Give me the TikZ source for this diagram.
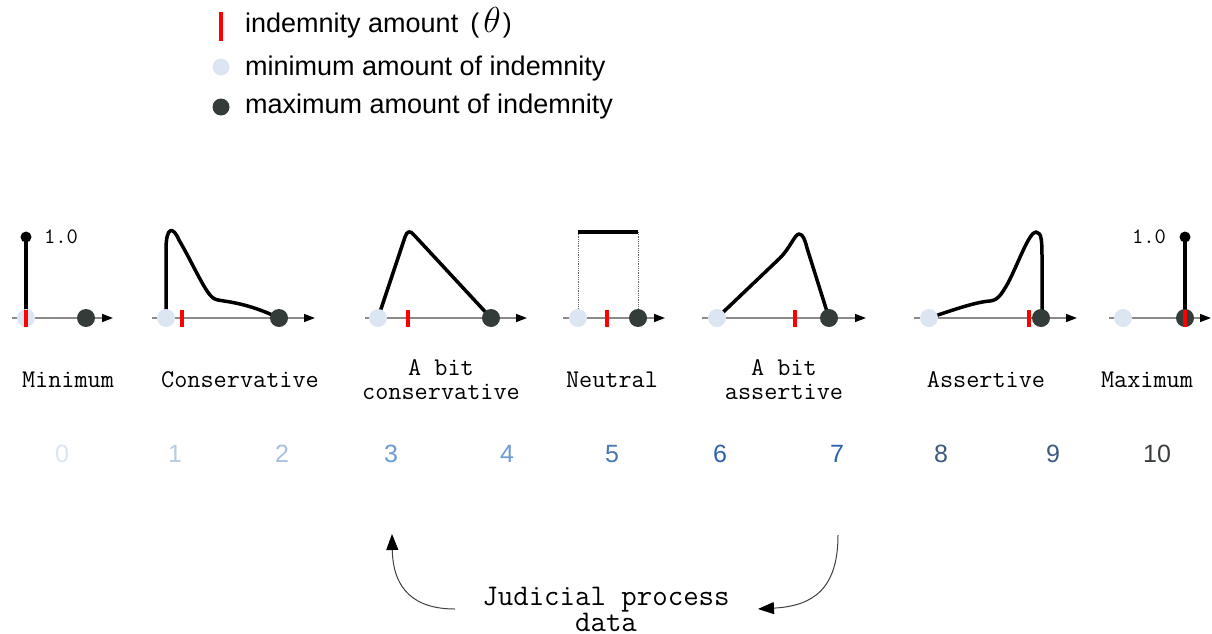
\documentclass[tikz,border=0pt]{standalone}
\usepackage{fontspec}
\setmainfont{Liberation Sans}
\usetikzlibrary{arrows.meta}
\definecolor{cLight}{HTML}{DCE6F2}
\definecolor{cDark}{HTML}{343C3A}
\definecolor{axisgray}{HTML}{8A8A8A}
\definecolor{cRed}{HTML}{FF0000}
\definecolor{c0}{HTML}{DBE5F1}
\definecolor{c1}{HTML}{B7CBE4}
\definecolor{c2}{HTML}{A7C0DF}
\definecolor{c3}{HTML}{6B9BD3}
\definecolor{c4}{HTML}{6C9BD2}
\definecolor{c5}{HTML}{4A78B4}
\definecolor{c6}{HTML}{2F62AC}
\definecolor{c7}{HTML}{2F62AC}
\definecolor{c8}{HTML}{3B5A7E}
\definecolor{c9}{HTML}{3B5A7E}
\definecolor{c10}{HTML}{3B3F3F}
\begin{document}
\begin{tikzpicture}[x=1pt,y=-1pt,
  mindot/.style={circle, fill=cLight, minimum size=18pt, inner sep=0pt},
  maxdot/.style={circle, fill=cDark, minimum size=18pt, inner sep=0pt},
  legdot/.style={circle, minimum size=17pt, inner sep=0pt},
  topdot/.style={circle, fill=black, minimum size=11pt, inner sep=0pt},
  axisline/.style={draw=axisgray, line width=1.5pt, -{Triangle[length=11pt,width=8pt,color=black]}},
  curve/.style={line width=3.5pt, line join=round, line cap=round},
  redtick/.style={draw=cRed, line width=4pt},
  lbl/.style={font=\fontsize{25.5}{24}\selectfont\ttfamily, align=center, inner sep=0pt},
  small/.style={font=\fontsize{22}{22}\selectfont\ttfamily, inner sep=0pt},
  num/.style={font=\fontsize{25}{30}\selectfont, inner sep=0pt},
  legtxt/.style={font=\fontsize{27}{30}\selectfont, anchor=base west, inner sep=0pt},
  jarrow/.style={draw=black!75, line width=1pt, -{Triangle[length=16pt,width=12pt,color=black]}}
]
\useasboundingbox (0,0) rectangle (1212,634);

% ---------- legend ----------
\draw[redtick, line width=4.5pt] (221,12) -- (221,41);
\node[legdot, fill=cLight] (lmin) at (221,67) {};
\node[legdot, fill=cDark] (lmax) at (221,107) {};
\node[legtxt] (t1) at (245,33) {indemnity amount\hspace{12pt}(\hspace{4pt}\scalebox{1.45}{$\theta$}\hspace{2pt})};
\node[legtxt] (t2) at (245,75) {minimum amount of indemnity};
\node[legtxt] (t3) at (245,113) {maximum amount of indemnity};

% ---------- plot 0: Minimum ----------
\draw[axisline] (12,318) -- (113,318);
\draw[curve] (26,318) -- (26,237);
\node[topdot] (p0top) at (26,237) {};
\node[small] (p0v) at (61,237) {1.0};
\node[mindot] (p0min) at (26,318) {};
\node[maxdot] (p0max) at (86,318) {};
\draw[redtick] (26,310) -- (26,327);

% ---------- plot 1: Conservative ----------
\draw[axisline] (152,318) -- (315,318);
\draw[curve] (166,318) -- (166,250)
  .. controls (166,226) and (173,226) .. (179,240)
  .. controls (192,262) and (204,290) .. (212,297)
  .. controls (215,300) and (218,300) .. (224,301)
  .. controls (245,304) and (262,310) .. (279,318);
\node[mindot] (p1min) at (166,318) {};
\node[maxdot] (p1max) at (279,318) {};
\draw[redtick] (182,310) -- (182,327);

% ---------- plot 3: A bit conservative ----------
\draw[axisline] (365,318) -- (527,318);
\draw[curve] (378,318) -- (405,237)
  .. controls (407,231) and (410,230) .. (414,235) -- (491,318);
\node[mindot] (p3min) at (378,318) {};
\node[maxdot] (p3max) at (491,318) {};
\draw[redtick] (408,310) -- (408,327);

% ---------- plot 5: Neutral ----------
\draw[axisline] (563,318) -- (665,318);
\draw[densely dotted, draw=black!60, line width=0.8pt] (578,232) -- (578,318);
\draw[densely dotted, draw=black!60, line width=0.8pt] (638,232) -- (638,318);
\draw[line width=3.5pt] (578,232) -- (638,232);
\node[mindot] (p5min) at (578,318) {};
\node[maxdot] (p5max) at (638,318) {};
\draw[redtick] (607,310) -- (607,327);

% ---------- plot 7: A bit assertive ----------
\draw[axisline] (702,318) -- (866,318);
\draw[curve] (717,318) -- (780,258)
  .. controls (790,248) and (795,234) .. (799,234)
  .. controls (803,234) and (805,240) .. (807,248) -- (829,318);
\node[mindot] (p7min) at (717,318) {};
\node[maxdot] (p7max) at (829,318) {};
\draw[redtick] (795,310) -- (795,327);

% ---------- plot 9: Assertive ----------
\draw[axisline] (914,318) -- (1077,318);
\draw[curve] (929,318)
  .. controls (950,311) and (975,302) .. (990,301)
  .. controls (998,300) and (1001,295) .. (1008,283)
  .. controls (1018,264) and (1029,232) .. (1036,232)
  .. controls (1042,232) and (1042,242) .. (1042,262) -- (1042,318);
\node[mindot] (p9min) at (929,318) {};
\node[maxdot] (p9max) at (1041,318) {};
\draw[redtick] (1029,310) -- (1029,327);

% ---------- plot 10: Maximum ----------
\draw[axisline] (1109,318) -- (1211,318);
\draw[curve] (1185,318) -- (1185,237);
\node[topdot] (p10top) at (1185,237) {};
\node[small] (p10v) at (1149,237) {1.0};
\node[mindot] (p10min) at (1123,318) {};
\node[maxdot] (p10max) at (1185,318) {};
\draw[redtick] (1185,310) -- (1185,327);

% ---------- labels ----------
\node[lbl] (l0) at (68,380) {Minimum};
\node[lbl] (l1) at (240,380) {Conservative};
\node[lbl] (l3) at (441,380) {A bit\\conservative};
\node[lbl] (l5) at (612,380) {Neutral};
\node[lbl] (l7) at (784,380) {A bit\\assertive};
\node[lbl] (l9) at (986,380) {Assertive};
\node[lbl] (l10) at (1147,380) {Maximum};

% ---------- numbers ----------
\node[num, text=c0] (n0) at (62,454) {0};
\node[num, text=c1] (n1) at (175,454) {1};
\node[num, text=c2] (n2) at (282,454) {2};
\node[num, text=c3] (n3) at (391,454) {3};
\node[num, text=c4] (n4) at (507,454) {4};
\node[num, text=c5] (n5) at (612,454) {5};
\node[num, text=c6] (n6) at (720,454) {6};
\node[num, text=c7] (n7) at (837,454) {7};
\node[num, text=c8] (n8) at (941,454) {8};
\node[num, text=c9] (n9) at (1053,454) {9};
\node[num, text=c10] (n10) at (1157,454) {10};

% ---------- judicial process ----------
\node[font=\fontsize{30}{26}\selectfont\ttfamily, align=center, inner sep=0pt] (jp) at (606,609) {Judicial process\\data};
\coordinate (la) at (455,609);
\coordinate (lb) at (392,534);
\coordinate (ra) at (838,535);
\coordinate (rb) at (758,609);
\draw[jarrow] (la) .. controls (415,609) and (393,590) .. (lb);
\draw[jarrow] (ra) .. controls (838,590) and (812,606) .. (rb);
\end{tikzpicture}
\end{document}
